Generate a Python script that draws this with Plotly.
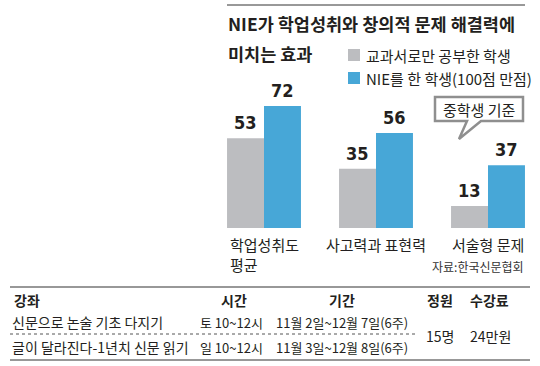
import plotly.graph_objects as go

# ---- data ----
categories = ["학업성취도<br>평균", "사고력과 표현력", "서술형 문제"]
series_names = ["교과서로만 공부한 학생", "NIE를 한 학생(100점 만점)"]
textbook_only = [53, 35, 13]
nie_students = [72, 56, 37]
title_lines = ["NIE가 학업성취와 창의적 문제 해결력에", "미치는 효과"]
callout_text = "중학생 기준"
source_text = "자료:한국신문협회"

table_headers = ["강좌", "시간", "기간", "정원", "수강료"]
course_names = ["신문으로 논술 기초 다지기", "글이 달라진다-1년치 신문 읽기"]
course_times = ["토 10~12시", "일 10~12시"]
course_periods = ["11월 2일~12월 7일(6주)", "11월 3일~12월 8일(6주)"]
capacity = "15명"
fee = "24만원"

# ---- styling ----
W, H = 540, 366
GRAY = "#bcbdc0"
BLUE = "#47a7d7"
INK = "#231f20"
KR = "Noto Sans CJK KR, Noto Sans, sans-serif"
NUM = "Liberation Sans Narrow, DejaVu Sans Condensed, Liberation Sans, sans-serif"

def px(x):
    return x / W

def py(y):
    return 1 - y / H

xpos = list(range(len(categories)))
bw = 0.33
unit = 112.0
x_left_px, x_right_px, center0 = 220, 535, 264
xr = [(x_left_px - center0) / unit, (x_right_px - center0) / unit]
base_px = 228
scale = 122 / 72.0
top_px = base_px - 100 * scale

fig = go.Figure()
fig.add_trace(go.Bar(x=xpos, y=textbook_only, name=series_names[0], marker_color=GRAY,
                     width=bw, offset=-bw, marker_line_width=0, showlegend=False,
                     hoverinfo="skip"))
fig.add_trace(go.Bar(x=xpos, y=nie_students, name=series_names[1], marker_color=BLUE,
                     width=bw, offset=0, marker_line_width=0, showlegend=False,
                     hoverinfo="skip"))

ann = []
# value labels
for xi, v in zip(xpos, textbook_only):
    ann.append(dict(x=xi - bw / 2, y=v, xref="x", yref="y", text=str(v), showarrow=False,
                    yanchor="bottom", yshift=3,
                    font=dict(family=NUM, size=18, color=INK, weight="bold")))
for xi, v in zip(xpos, nie_students):
    ann.append(dict(x=xi + bw / 2, y=v, xref="x", yref="y", text=str(v), showarrow=False,
                    yanchor="bottom", yshift=3,
                    font=dict(family=NUM, size=18, color=INK, weight="bold")))
# category labels
for xi, c in zip(xpos, categories):
    ann.append(dict(x=xi, y=0, xref="x", yref="y", text=c, showarrow=False,
                    yanchor="top", yshift=-4, align="left",
                    font=dict(family=KR, size=15, color=INK)))

# title
ann.append(dict(x=px(226), y=py(24), xref="paper", yref="paper", text=title_lines[0],
                showarrow=False, xanchor="left", yanchor="middle",
                font=dict(family=KR, size=17.5, color=INK, weight="bold")))
ann.append(dict(x=px(226), y=py(53), xref="paper", yref="paper", text=title_lines[1],
                showarrow=False, xanchor="left", yanchor="middle",
                font=dict(family=KR, size=17.5, color=INK, weight="bold")))
# legend texts
ann.append(dict(x=px(364), y=py(55), xref="paper", yref="paper", text=series_names[0],
                showarrow=False, xanchor="left", yanchor="middle",
                font=dict(family=KR, size=15, color=INK)))
ann.append(dict(x=px(364), y=py(78), xref="paper", yref="paper", text=series_names[1],
                showarrow=False, xanchor="left", yanchor="middle",
                font=dict(family=KR, size=15, color=INK)))
# callout text
ann.append(dict(x=px(479), y=py(109), xref="paper", yref="paper", text=callout_text,
                showarrow=False, xanchor="center", yanchor="middle",
                font=dict(family=KR, size=15, color=INK)))
# source
ann.append(dict(x=px(526), y=py(266), xref="paper", yref="paper", text=source_text,
                showarrow=False, xanchor="right", yanchor="middle",
                font=dict(family=KR, size=12, color="#333333")))

# table
hdr_x = [12, 234, 342, 440, 489]
hdr_anchor = ["left", "center", "center", "center", "center"]
for t, x, a in zip(table_headers, hdr_x, hdr_anchor):
    ann.append(dict(x=px(x), y=py(300), xref="paper", yref="paper", text=t, showarrow=False,
                    xanchor=a, yanchor="middle",
                    font=dict(family=KR, size=14, color=INK, weight="bold")))
row_y = [322, 347]
for i in range(len(course_names)):
    ann.append(dict(x=px(10), y=py(row_y[i]), xref="paper", yref="paper", text=course_names[i],
                    showarrow=False, xanchor="left", yanchor="middle",
                    font=dict(family=KR, size=14, color=INK)))
    ann.append(dict(x=px(265), y=py(row_y[i]), xref="paper", yref="paper", text=course_times[i],
                    showarrow=False, xanchor="right", yanchor="middle",
                    font=dict(family=KR, size=13, color=INK)))
    ann.append(dict(x=px(342), y=py(row_y[i]), xref="paper", yref="paper", text=course_periods[i],
                    showarrow=False, xanchor="center", yanchor="middle",
                    font=dict(family=KR, size=13, color=INK)))
ann.append(dict(x=px(440), y=py(336), xref="paper", yref="paper", text=capacity,
                showarrow=False, xanchor="center", yanchor="middle",
                font=dict(family=KR, size=14, color=INK)))
ann.append(dict(x=px(490), y=py(336), xref="paper", yref="paper", text=fee,
                showarrow=False, xanchor="center", yanchor="middle",
                font=dict(family=KR, size=14, color=INK)))

shapes = []
# top rule
shapes.append(dict(type="line", xref="paper", yref="paper", x0=px(227), x1=px(525),
                   y0=py(5), y1=py(5), line=dict(color="#333333", width=1)))
# legend squares
shapes.append(dict(type="rect", xref="paper", yref="paper", x0=px(348), x1=px(360),
                   y0=py(49), y1=py(61), fillcolor=GRAY, line=dict(width=0)))
shapes.append(dict(type="rect", xref="paper", yref="paper", x0=px(348), x1=px(360),
                   y0=py(72), y1=py(84), fillcolor=BLUE, line=dict(width=0)))
# callout
pts = [(435, 97), (523, 97), (523, 121), (481, 121), (459, 139), (467, 121), (435, 121)]
path = "M" + " L".join(f"{px(x):.5f},{py(y):.5f}" for x, y in pts) + " Z"
shapes.append(dict(type="path", xref="paper", yref="paper", path=path, fillcolor="white",
                   line=dict(color="#8f8f8f", width=2.5)))
# table rules
shapes.append(dict(type="line", xref="paper", yref="paper", x0=px(10), x1=px(530),
                   y0=py(287), y1=py(287), line=dict(color="#333333", width=1.2)))
shapes.append(dict(type="line", xref="paper", yref="paper", x0=px(10), x1=px(415),
                   y0=py(334), y1=py(334), line=dict(color="#555555", width=1, dash="dot")))
shapes.append(dict(type="line", xref="paper", yref="paper", x0=px(10), x1=px(530),
                   y0=py(360), y1=py(360), line=dict(color="#333333", width=1.2)))

fig.update_layout(
    width=W, height=H, margin=dict(l=0, r=0, t=0, b=0),
    paper_bgcolor="white", plot_bgcolor="white",
    barmode="overlay",
    xaxis=dict(range=xr, domain=[px(x_left_px), px(x_right_px)], visible=False, fixedrange=True),
    yaxis=dict(range=[0, 100], domain=[py(base_px), py(top_px)], visible=False, fixedrange=True),
    annotations=ann, shapes=shapes, showlegend=False,
)

fig.write_html("out.html", config={"displayModeBar": False},
               post_script="document.body.style.margin='0px';document.body.style.overflow='hidden';")
